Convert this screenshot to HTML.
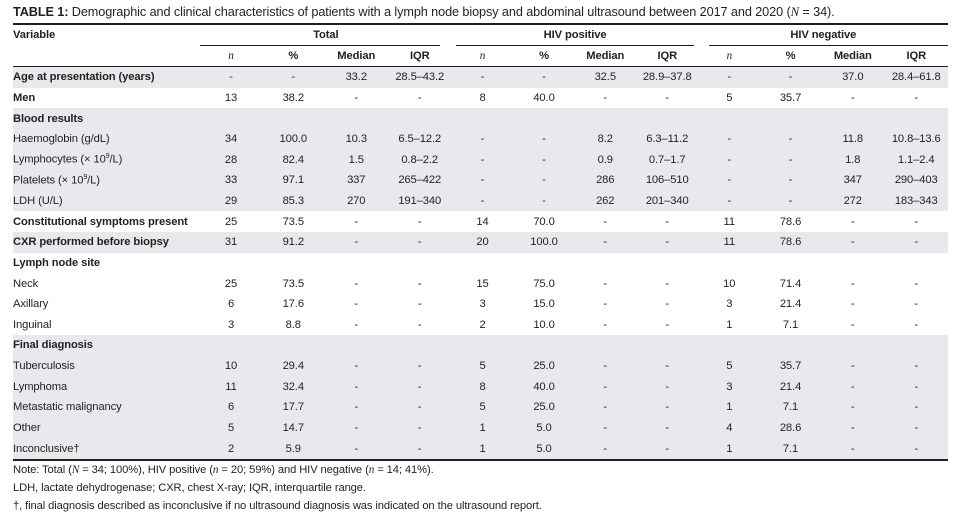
<!DOCTYPE html>
<html><head><meta charset="utf-8"><style>
*{margin:0;padding:0;box-sizing:border-box}
body{width:965px;height:514px;background:#fff;position:relative;font-family:"Liberation Sans",sans-serif;color:#231f20;overflow:hidden}
.title{position:absolute;left:13px;top:5px;font-size:12.7px;white-space:nowrap;letter-spacing:-0.1px}
.rule{position:absolute;background:#231f20}
table{position:absolute;left:13px;border-collapse:collapse;table-layout:fixed;width:935px;font-size:11.2px}
td{height:20.63px;text-align:center;white-space:nowrap;padding:0;letter-spacing:-0.1px}
td:first-child{text-align:left}
tr.g td{background:#e8e9ec}
.b{font-weight:bold}
.hd td{height:20.5px;font-weight:bold}
.notes{position:absolute;left:13px;top:461px;font-size:11.2px;line-height:18px;letter-spacing:-0.1px}
</style></head><body>
<div class="title"><b>TABLE 1:</b> Demographic and clinical characteristics of patients with a lymph node biopsy and abdominal ultrasound between 2017 and 2020 (<i style="font-family:'Liberation Serif',serif">N</i> = 34).</div>
<div class="rule" style="left:13px;top:23px;width:935px;height:2px"></div>
<div class="rule" style="left:200px;top:45px;width:240px;height:1px"></div>
<div class="rule" style="left:456px;top:45px;width:238px;height:1px"></div>
<div class="rule" style="left:709px;top:45px;width:239px;height:1px"></div>
<div class="rule" style="left:13px;top:66px;width:935px;height:1px"></div>
<div class="rule" style="left:13px;top:459px;width:935px;height:2px"></div>
<table style="top:25px">
<colgroup><col style="width:187px"><col style="width:62px"><col style="width:62.5px"><col style="width:63.5px"><col style="width:63.5px"><col style="width:62px"><col style="width:61px"><col style="width:61.5px"><col style="width:62.5px"><col style="width:61.5px"><col style="width:61px"><col style="width:63.5px"><col style="width:63.5px"></colgroup>
<tr class="hd"><td>Variable</td><td colspan="4">Total</td><td colspan="4">HIV positive</td><td colspan="4">HIV negative</td></tr>
<tr class="hd"><td></td><td><i style="font-family:'Liberation Serif',serif;font-weight:normal">n</i></td><td>%</td><td>Median</td><td>IQR</td><td><i style="font-family:'Liberation Serif',serif;font-weight:normal">n</i></td><td>%</td><td>Median</td><td>IQR</td><td><i style="font-family:'Liberation Serif',serif;font-weight:normal">n</i></td><td>%</td><td>Median</td><td>IQR</td></tr>
</table>
<table style="top:67px">
<colgroup><col style="width:187px"><col style="width:62px"><col style="width:62.5px"><col style="width:63.5px"><col style="width:63.5px"><col style="width:62px"><col style="width:61px"><col style="width:61.5px"><col style="width:62.5px"><col style="width:61.5px"><col style="width:61px"><col style="width:63.5px"><col style="width:63.5px"></colgroup>
<tr class="g"><td class="b">Age at presentation (years)</td><td>-</td><td>-</td><td>33.2</td><td>28.5–43.2</td><td>-</td><td>-</td><td>32.5</td><td>28.9–37.8</td><td>-</td><td>-</td><td>37.0</td><td>28.4–61.8</td></tr>
<tr><td class="b">Men</td><td>13</td><td>38.2</td><td>-</td><td>-</td><td>8</td><td>40.0</td><td>-</td><td>-</td><td>5</td><td>35.7</td><td>-</td><td>-</td></tr>
<tr class="g"><td class="b">Blood results</td><td></td><td></td><td></td><td></td><td></td><td></td><td></td><td></td><td></td><td></td><td></td><td></td></tr>
<tr class="g"><td>Haemoglobin (g/dL)</td><td>34</td><td>100.0</td><td>10.3</td><td>6.5–12.2</td><td>-</td><td>-</td><td>8.2</td><td>6.3–11.2</td><td>-</td><td>-</td><td>11.8</td><td>10.8–13.6</td></tr>
<tr class="g"><td>Lymphocytes (× 10<sup style="font-size:7px">9</sup>/L)</td><td>28</td><td>82.4</td><td>1.5</td><td>0.8–2.2</td><td>-</td><td>-</td><td>0.9</td><td>0.7–1.7</td><td>-</td><td>-</td><td>1.8</td><td>1.1–2.4</td></tr>
<tr class="g"><td>Platelets (× 10<sup style="font-size:7px">9</sup>/L)</td><td>33</td><td>97.1</td><td>337</td><td>265–422</td><td>-</td><td>-</td><td>286</td><td>106–510</td><td>-</td><td>-</td><td>347</td><td>290–403</td></tr>
<tr class="g"><td>LDH (U/L)</td><td>29</td><td>85.3</td><td>270</td><td>191–340</td><td>-</td><td>-</td><td>262</td><td>201–340</td><td>-</td><td>-</td><td>272</td><td>183–343</td></tr>
<tr><td class="b">Constitutional symptoms present</td><td>25</td><td>73.5</td><td>-</td><td>-</td><td>14</td><td>70.0</td><td>-</td><td>-</td><td>11</td><td>78.6</td><td>-</td><td>-</td></tr>
<tr class="g"><td class="b">CXR performed before biopsy</td><td>31</td><td>91.2</td><td>-</td><td>-</td><td>20</td><td>100.0</td><td>-</td><td>-</td><td>11</td><td>78.6</td><td>-</td><td>-</td></tr>
<tr><td class="b">Lymph node site</td><td></td><td></td><td></td><td></td><td></td><td></td><td></td><td></td><td></td><td></td><td></td><td></td></tr>
<tr><td>Neck</td><td>25</td><td>73.5</td><td>-</td><td>-</td><td>15</td><td>75.0</td><td>-</td><td>-</td><td>10</td><td>71.4</td><td>-</td><td>-</td></tr>
<tr><td>Axillary</td><td>6</td><td>17.6</td><td>-</td><td>-</td><td>3</td><td>15.0</td><td>-</td><td>-</td><td>3</td><td>21.4</td><td>-</td><td>-</td></tr>
<tr><td>Inguinal</td><td>3</td><td>8.8</td><td>-</td><td>-</td><td>2</td><td>10.0</td><td>-</td><td>-</td><td>1</td><td>7.1</td><td>-</td><td>-</td></tr>
<tr class="g"><td class="b">Final diagnosis</td><td></td><td></td><td></td><td></td><td></td><td></td><td></td><td></td><td></td><td></td><td></td><td></td></tr>
<tr class="g"><td>Tuberculosis</td><td>10</td><td>29.4</td><td>-</td><td>-</td><td>5</td><td>25.0</td><td>-</td><td>-</td><td>5</td><td>35.7</td><td>-</td><td>-</td></tr>
<tr class="g"><td>Lymphoma</td><td>11</td><td>32.4</td><td>-</td><td>-</td><td>8</td><td>40.0</td><td>-</td><td>-</td><td>3</td><td>21.4</td><td>-</td><td>-</td></tr>
<tr class="g"><td>Metastatic malignancy</td><td>6</td><td>17.7</td><td>-</td><td>-</td><td>5</td><td>25.0</td><td>-</td><td>-</td><td>1</td><td>7.1</td><td>-</td><td>-</td></tr>
<tr class="g"><td>Other</td><td>5</td><td>14.7</td><td>-</td><td>-</td><td>1</td><td>5.0</td><td>-</td><td>-</td><td>4</td><td>28.6</td><td>-</td><td>-</td></tr>
<tr class="g"><td>Inconclusive†</td><td>2</td><td>5.9</td><td>-</td><td>-</td><td>1</td><td>5.0</td><td>-</td><td>-</td><td>1</td><td>7.1</td><td>-</td><td>-</td></tr>
</table>
<div class="notes">
<div>Note: Total (<i style="font-family:'Liberation Serif',serif">N</i> = 34; 100%), HIV positive (<i style="font-family:'Liberation Serif',serif">n</i> = 20; 59%) and HIV negative (<i style="font-family:'Liberation Serif',serif">n</i> = 14; 41%).</div>
<div>LDH, lactate dehydrogenase; CXR, chest X-ray; IQR, interquartile range.</div>
<div>†, final diagnosis described as inconclusive if no ultrasound diagnosis was indicated on the ultrasound report.</div>
</div>
</body></html>
